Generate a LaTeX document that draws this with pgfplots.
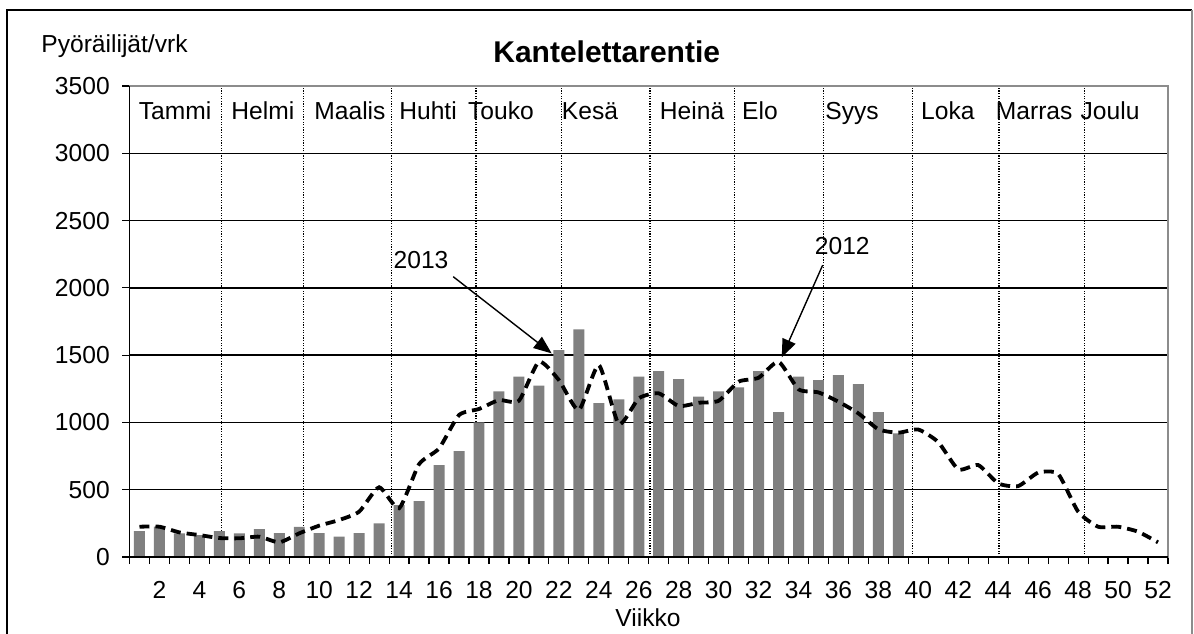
\documentclass[border=0pt]{standalone}
\usepackage{pgfplots}
\pgfplotsset{compat=1.18}
\usepackage{fontspec}
\setmainfont{Liberation Sans}
\usetikzlibrary{arrows.meta}
\definecolor{bargray}{HTML}{808080}
\definecolor{bordergray}{HTML}{8C8C8C}

\pgfplotstableread{
week v
1 193
2 225
3 176
4 163
5 193
6 176
7 208
8 178
9 223
10 178
11 151
12 178
13 250
14 386
15 416
16 683
17 787
18 1000
19 1231
20 1340
21 1273
22 1538
23 1691
24 1144
25 1171
26 1340
27 1382
28 1322
29 1191
30 1231
31 1260
32 1382
33 1077
34 1340
35 1315
36 1352
37 1285
38 1077
39 919
}\bars

\pgfplotstableread{
week v
1 225
2 225
3 183
4 163
5 141
6 139
7 151
8 109
9 176
10 233
11 275
12 337
13 518
14 362
15 690
16 807
17 1055
18 1100
19 1166
20 1161
21 1451
22 1315
23 1092
24 1426
25 988
26 1179
27 1216
28 1122
29 1146
30 1161
31 1303
32 1332
33 1451
34 1246
35 1223
36 1154
37 1067
38 949
39 924
40 947
41 853
42 651
43 683
44 547
45 527
46 627
47 617
48 337
49 225
50 225
51 188
52 109
}\line

\begin{document}
\fontsize{12.3}{14}\selectfont
\begin{tikzpicture}[lbl/.style={text height=9pt, text depth=2.6pt, inner sep=0pt}]
\useasboundingbox (-64.75pt,-38pt) rectangle (532.25pt,278.5pt);
\begin{axis}[
  scale only axis,
  width=519.25pt, height=235.5pt,
  xmin=0.5, xmax=52.5, ymin=0, ymax=3500,
  clip=false,
  axis line style={bordergray, line width=0.6pt},
  tick align=outside,
  xtick pos=bottom, ytick pos=left,
  major tick length=3.6pt,
  tick style={black, line width=0.6pt},
  xtick={0.5,1.5,...,52.5},
  xticklabels={},
  extra x ticks={2,4,...,52},
  extra x tick style={major tick length=0pt, grid=none,
     xticklabel style={yshift=-7.5pt, text height=8.8pt, text depth=0pt}},
  minor xtick={5.12,9.22,13.61,17.85,22.12,26.56,30.79,35.24,39.7,44.04,48.3},
  minor tick length=0pt,
  xminorgrids=true,
  minor grid style={black, line width=0.6pt, dash pattern=on 0.6pt off 0.7pt},
  ytick={0,500,...,3500},
  ymajorgrids=true,
  major grid style={black, line width=0.7pt},
  yticklabel style={xshift=-2pt},
  /pgf/number format/assume math mode=true,
  /pgf/number format/1000 sep={},
  ticklabel style={font=\fontsize{12.3}{14}\selectfont},
]
\addplot[ybar, bar width=0.55, fill=bargray, draw=none] table[x=week, y=v] {\bars};
\addplot[black, line width=1.9pt, dash pattern=on 5pt off 3pt, smooth, tension=0.35] table[x=week, y=v] {\line};

\node[lbl] at (axis cs:2.78,3299) {Tammi};
\node[lbl] at (axis cs:7.18,3299) {Helmi};
\node[lbl] at (axis cs:11.54,3299) {Maalis};
\node[lbl] at (axis cs:15.45,3299) {Huhti};
\node[lbl] at (axis cs:19.1,3299) {Touko};
\node[lbl] at (axis cs:23.56,3299) {Kesä};
\node[lbl] at (axis cs:28.67,3299) {Heinä};
\node[lbl] at (axis cs:32.07,3299) {Elo};
\node[lbl] at (axis cs:36.68,3299) {Syys};
\node[lbl] at (axis cs:41.48,3299) {Loka};
\node[lbl] at (axis cs:45.8,3299) {Marras};
\node[lbl] at (axis cs:49.6,3299) {Joulu};

\node[lbl] at (axis cs:15.1,2192) {2013};
\draw[black, line width=0.7pt, -{Triangle[length=9pt,width=7pt]}] (axis cs:16.71,2083) -- (axis cs:21.64,1513);
\node[lbl] at (axis cs:36.19,2293) {2012};
\draw[black, line width=0.7pt, -{Triangle[length=9pt,width=7pt]}] (axis cs:35.21,2169) -- (axis cs:33.16,1484);

\draw[black, line width=0.9pt] (axis cs:0.5,3500) -- (axis cs:0.5,0) -- (axis cs:52.5,0);
\end{axis}
\node[lbl] at (238.6pt,250.5pt) {\fontsize{15}{17}\selectfont\bfseries Kantelettarentie};
\node[lbl] at (-7.5pt,255.2pt) {Pyöräilijät/vrk};
\node[lbl] at (259.25pt,-31.5pt) {Viikko};
\draw[black, line width=0.8pt] (-61.1pt,-40pt) -- (-61.1pt,273.5pt) -- (531.1pt,273.5pt);
\draw[bordergray, line width=0.8pt] (531.1pt,273.5pt) -- (531.1pt,-40pt);
\end{tikzpicture}
\end{document}
